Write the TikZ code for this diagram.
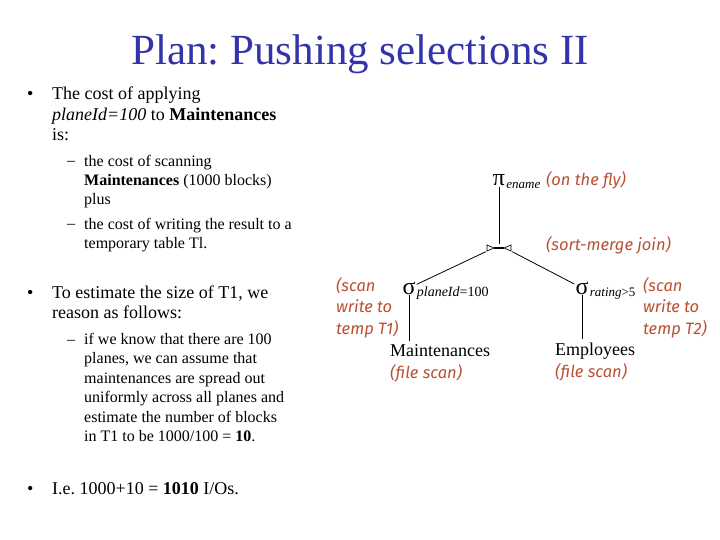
\documentclass[tikz,border=0pt]{standalone}
\usepackage{fontspec}
\setmainfont{Liberation Serif}
\newfontfamily\notefont{Fira Sans}
\usetikzlibrary{positioning,calc}
\definecolor{titleblue}{RGB}{51,51,170}
\definecolor{notered}{RGB}{185,80,50}
\frenchspacing

\begin{document}
\begin{tikzpicture}[x=1pt,y=-1pt,
    txt/.style={anchor=base west,inner sep=0pt,align=left,
                font=\fontsize{18}{20.5}\selectfont},
    subtxt/.style={txt,font=\fontsize{16}{19.5}\selectfont},
    note/.style={anchor=base west,inner sep=0pt,align=left,text=notered,
                 font=\notefont\itshape\fontsize{16.5}{21.5}\selectfont},
    op/.style={inner sep=1pt,font=\fontsize{24}{24}\selectfont},
    opsub/.style={anchor=base west,inner sep=0pt,font=\fontsize{14}{14}\selectfont},
    rel/.style={anchor=base west,inner sep=3pt,font=\fontsize{18}{18}\selectfont},
    edge/.style={line width=0.8pt}]

  \useasboundingbox (0,0) rectangle (720,540);

  % title
  \node[anchor=base,inner sep=0pt,text=titleblue,font=\fontsize{43}{43}\selectfont]
    (title) at (360,65) {Plan: Pushing selections II};

  % left column text (multi-line nodes sit on their last baseline)
  \node[txt] (dot1) at (27,100) {•};
  \node[txt] (b1) at (52,141) {The cost of applying\\
    \textit{planeId=100} to \textbf{Maintenances}\\ is:};
  \node[subtxt] (dash1) at (67,166) {–};
  \node[subtxt] (s1) at (84,205) {the cost of scanning\\
    \textbf{Maintenances} (1000 blocks)\\ plus};
  \node[subtxt] (dash2) at (67,229) {–};
  \node[subtxt] (s2) at (84,248.5) {the cost of writing the result to a\\
    temporary table Tl.};

  \node[txt] (dot2) at (27,298) {•};
  \node[txt] (b2) at (52,318.5) {To estimate the size of T1, we\\ reason as follows:};
  \node[subtxt] (dash3) at (67,344) {–};
  \node[subtxt] (s3) at (84,441.5) {if we know that there are 100\\
    planes, we can assume that\\ maintenances are spread out\\
    uniformly across all planes and\\ estimate the number of blocks\\
    in T1 to be 1000/100 = \textbf{10}.};

  \node[txt] (dot3) at (27,494) {•};
  \node[txt] (b3) at (52,494) {I.e. 1000+10 = \textbf{1010} I/Os.};

  % plan tree
  \node[op] (proj) at (499,180) {π};
  \node[opsub,font=\itshape\fontsize{13}{13}\selectfont]
    (projsub) at ($(proj.base east)+(0,3)$) {ename};
  \node[inner sep=0pt,minimum width=26,minimum height=7] (join) at (499,248) {};
  \draw[line width=0.7pt] ($(join)+(-12,-3)$) -- ++(0,6) -- ++(7,-3) -- cycle;
  \draw[line width=0.7pt] ($(join)+(12,-3)$) -- ++(0,6) -- ++(-7,-3) -- cycle;
  \draw[line width=2pt] ($(join)+(-5,0)$) -- ($(join)+(5,0)$);

  \node[op] (selL) at (409,288) {σ};
  \node[opsub] (selLsub) at ($(selL.base east)+(0,2)$) {\textit{planeId}=100};
  \node[op] (selR) at (582,288) {σ};
  \node[opsub,font=\fontsize{13}{13}\selectfont]
    (selRsub) at ($(selR.base east)+(0,2)$) {\textit{rating}>5};

  \node[rel] (maint) at (387,356) {Maintenances};
  \node[rel] (emp) at (552,355) {Employees};

  \draw[edge] (proj) -- (join.north);
  \draw[edge] (join.south west) -- (selL);
  \draw[edge] (join.south east) -- (selR);
  \draw[edge] (selL) -- (selL |- maint.north);
  \draw[edge] (selR) -- (selR |- emp.north);

  % annotations
  \node[note] (fly) at (546,186) {(on the fly)};
  \node[note] (smj) at (546,251) {(sort-merge join)};
  \node[note] (t1) at (336,334) {(scan\\write to\\temp T1)};
  \node[note] (t2) at (643,334) {(scan\\write to\\temp T2)};
  \node[note] (fs1) at (390,378) {(file scan)};
  \node[note] (fs2) at (555,377) {(file scan)};
\end{tikzpicture}
\end{document}
